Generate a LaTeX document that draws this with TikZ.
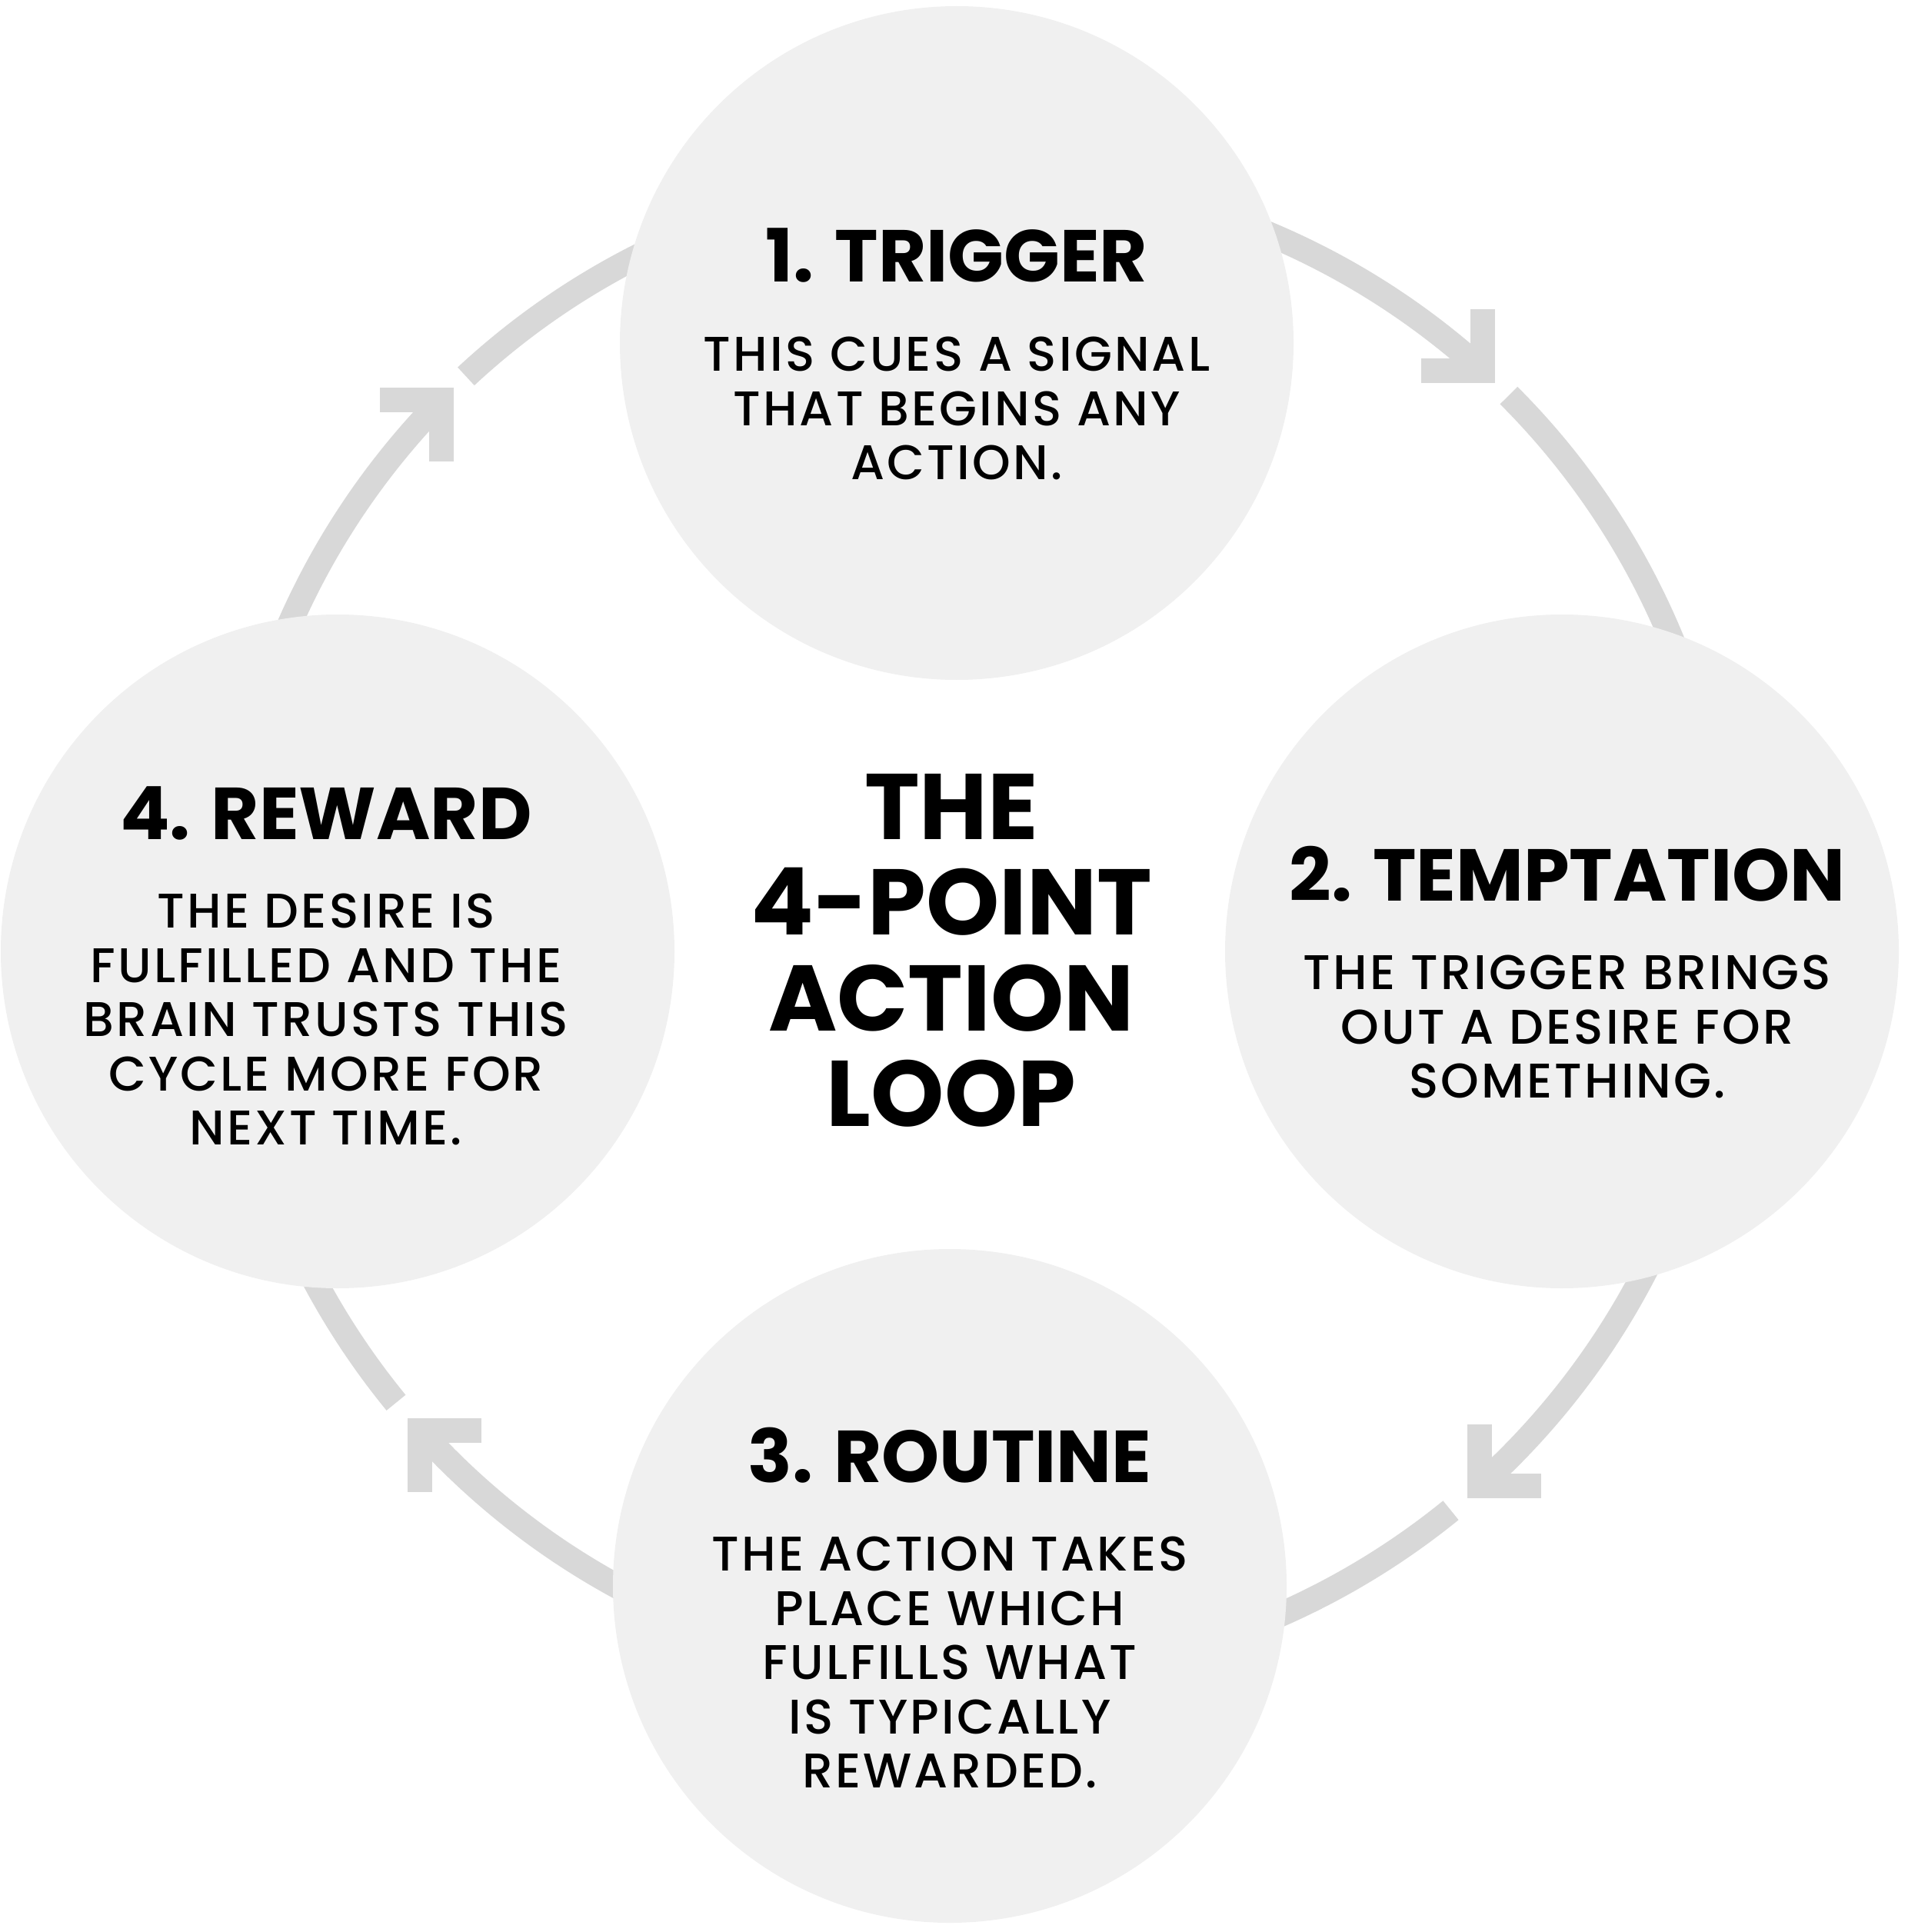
\documentclass[tikz,border=0pt]{standalone}
\usepackage{fontspec}
\setmainfont{Poppins}
\newfontfamily\blurbfont{Poppins Medium}[LetterSpace=5]
\usetikzlibrary{positioning}
\definecolor{ringgrey}{HTML}{D8D8D8}
\definecolor{discgrey}{HTML}{F0F0F0}

\begin{document}
\begin{tikzpicture}[
        ring/.style={draw=ringgrey, line width=0.32cm, line cap=butt},
        chevron/.style={draw=ringgrey, line width=0.32cm, line cap=butt, line join=miter},
        disc/.style={circle, fill=discgrey, minimum size=8.76cm, inner sep=0pt},
        heading/.style={inner sep=0pt, font=\bfseries\fontsize{27.2}{30}\selectfont},
        blurb/.style={inner sep=0pt, align=center, font=\blurbfont\fontsize{18}{20.06}\selectfont},
        loopname/.style={inner sep=0pt, align=center, font=\bfseries\fontsize{34.5}{35.4}\selectfont}
    ]
    \useasboundingbox (0,0) rectangle (24.80,-25.12);
    \coordinate (hub) at (12.71,-12.05);

    \draw[ring] ([shift={(132.9:9.77)}]hub) arc[start angle=132.9, end angle=48.3, radius=9.77];
    \draw[ring] ([shift={(45.0:9.77)}]hub) arc[start angle=45.0, end angle=-47.5, radius=9.77];
    \draw[ring] ([shift={(-50.95:9.77)}]hub) arc[start angle=-50.95, end angle=-137.4, radius=9.77];
    \draw[ring] ([shift={(-140.7:9.77)}]hub) arc[start angle=-140.7, end angle=-224.0, radius=9.77];

    \coordinate (tipA) at ([shift={(47.75:9.77)}]hub);
    \coordinate (tipB) at ([shift={(-48.06:9.77)}]hub);
    \coordinate (tipC) at ([shift={(-137.93:9.77)}]hub);
    \coordinate (tipD) at ([shift={(135.5:9.77)}]hub);
    \draw[chevron] ([yshift=0.8cm]tipA) -- (tipA) -- ([xshift=-0.8cm]tipA);
    \draw[chevron] ([yshift=0.8cm]tipB) -- (tipB) -- ([xshift=0.8cm]tipB);
    \draw[chevron] ([xshift=0.8cm]tipC) -- (tipC) -- ([yshift=-0.8cm]tipC);
    \draw[chevron] ([xshift=-0.8cm]tipD) -- (tipD) -- ([yshift=-0.8cm]tipD);

    \node[disc] (trigger) at (12.44,-4.46) {};
    \node[disc] (temptation) at (20.31,-12.37) {};
    \node[disc] (routine) at (12.35,-20.62) {};
    \node[disc] (reward) at (4.39,-12.37) {};

    \node[heading, anchor=base] (triggerhead) at ([yshift=0.79cm]trigger.center) {1. TRIGGER};
    \node[blurb, below=0.705cm of triggerhead.base] (triggertext) {THIS CUES A SIGNAL\\THAT BEGINS ANY\\ACTION.};

    \node[heading, anchor=base] (temptationhead) at ([xshift=0.07cm, yshift=0.66cm]temptation.center) {2. TEMPTATION};
    \node[blurb, below=0.705cm of temptationhead.base] (temptationtext) {THE TRIGGER BRINGS\\OUT A DESIRE FOR\\SOMETHING.};

    \node[heading, anchor=base] (routinehead) at ([yshift=1.35cm]routine.center) {3. ROUTINE};
    \node[blurb, below=0.705cm of routinehead.base] (routinetext) {THE ACTION TAKES\\PLACE WHICH\\FULFILLS WHAT\\IS TYPICALLY\\REWARDED.};

    \node[heading, anchor=base] (rewardhead) at ([xshift=-0.15cm, yshift=1.46cm]reward.center) {4. REWARD};
    \node[blurb, below=0.705cm of rewardhead.base] (rewardtext) {THE DESIRE IS\\FULFILLED AND THE\\BRAIN TRUSTS THIS\\CYCLE MORE FOR\\NEXT TIME.};

    \node[loopname] (title) at (12.37,-12.36) {THE\\4-POINT\\ACTION\\LOOP};
\end{tikzpicture}
\end{document}
